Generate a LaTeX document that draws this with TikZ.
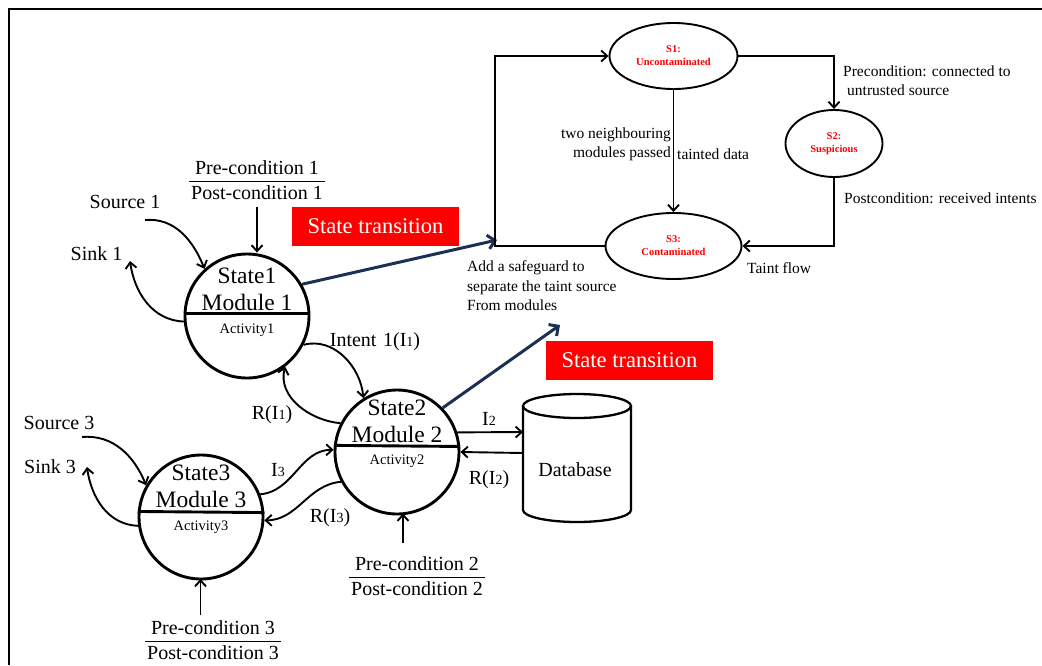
\documentclass[tikz,border=0pt]{standalone}
\usepackage{fontspec}
\setmainfont{Liberation Serif}
\usetikzlibrary{arrows.meta,shapes.geometric}
\definecolor{navyline}{RGB}{28,48,84}
\definecolor{boxred}{RGB}{255,0,0}
\newcommand\smd[1]{{\fontsize{14}{14}\selectfont #1}}
\newcommand\prepost[1]{\setlength\arrayrulewidth{1.6pt}\begin{tabular}{@{\hspace{2pt}}c@{\hspace{2pt}}}Pre-condition #1\\[-1pt]\hline Post-condition #1\end{tabular}}
\begin{document}
\begin{tikzpicture}[x=1pt,y=-1pt,
  modnode/.style={circle, draw, line width=2.9pt, inner sep=0pt, minimum size=124pt},
  big/.style={font=\fontsize{23.5}{27}\selectfont, align=center, inner sep=0pt},
  act/.style={font=\fontsize{14.5}{16}\selectfont, inner sep=0pt},
  lbl/.style={font=\fontsize{20}{24}\selectfont, inner sep=0pt},
  pcnode/.style={font=\fontsize{20}{24}\selectfont, inner sep=0pt},
  small/.style={font=\fontsize{15.5}{19.5}\selectfont, inner sep=0pt},
  stnode/.style={ellipse, draw, line width=1.9pt, inner sep=0pt, font=\fontsize{10.5}{13}\selectfont\bfseries, text=boxred, align=center},
  redbox/.style={fill=boxred, text=white, font=\fontsize{22.5}{26}\selectfont, minimum width=167pt, minimum height=39pt, inner sep=0pt},
  conn/.style={line width=1.9pt, -{Straight Barb[length=6pt,width=11pt]}},
  rconn/.style={line width=1.9pt, -{Straight Barb[length=6pt,width=11pt]}},
  blueconn/.style={draw=navyline, line width=3pt, -{Straight Barb[length=7pt,width=14pt]}}]
\useasboundingbox (0,0) rectangle (1042,665);
\fill[white] (0,0) rectangle (1042,665);
% frame
\draw[line width=2.6pt] (9,665) -- (9,9) -- (1042,9);

% ---------- modules ----------
\node[modnode] (m1) at (247,316) {};
\node[modnode] (m2) at (397,452) {};
\node[modnode] (m3) at (201,517) {};
\draw[line width=2.9pt] (m1.178) -- (m1.2);
\draw[line width=2.9pt] (m2.174.4) -- (m2.5.6);
\draw[line width=2.9pt] (m3.175.4) -- (m3.4.6);
\node[big] (m1t) at (247,289) {State1\\Module 1};
\node[act] (m1a) at (247,330) {Activity1};
\node[big] (m2t) at (397,421.5) {State2\\Module 2};
\node[act] (m2a) at (397,461) {Activity2};
\node[big] (m3t) at (201,486.5) {State3\\Module 3};
\node[act] (m3a) at (201,527) {Activity3};

% ---------- pre/post conditions ----------
\node[pcnode] (pc1) at (257,182) {\prepost{1}};
\node[pcnode] (pc2) at (417,578) {\prepost{2}};
\node[pcnode] (pc3) at (213,642) {\prepost{3}};
\draw[conn] (pc1.south) -- (pc1.south |- m1.north);
\coordinate (pc2a) at (403,543);
\draw[conn] (pc2a) -- (403,513.5);
\coordinate (pc3a) at (200.5,615);
\draw[conn] (pc3a) -- (200.5,579);

% ---------- sources and sinks ----------
\node[lbl] (src1) at (125,202) {Source 1};
\node[lbl] (snk1) at (96.5,254) {Sink 1};
\node[lbl] (src3) at (59,423) {Source 3};
\node[lbl] (snk3) at (50,467) {Sink 3};
\coordinate (src1a) at (145,220);
\coordinate (snk1a) at (130,261);
\coordinate (src3a) at (82,437);
\coordinate (snk3a) at (87,467);
\draw[conn] (src1a) to[out=5,in=112] (m1.132);
\draw[conn] (m1.185) to[out=178,in=-82] (snk1a);
\draw[conn] (src3a) to[out=5,in=112] (m3.150);
\draw[conn] (m3.188) to[out=178,in=-82] (snk3a);

% ---------- intents ----------
\node[lbl] (int1) at (375,342) {Intent\,\,1(I\smd{1})};
\node[lbl] (ri1) at (272,415) {R(I\smd{1})};
\node[lbl] (i3) at (278,470) {I\smd{3}};
\node[lbl] (ri3) at (330,518) {R(I\smd{3})};
\node[lbl] (i2) at (489,419) {I\smd{2}};
\node[lbl] (ri2) at (489,480) {R(I\smd{2})};
\draw[conn] (m1.-27) to[out=15,in=95] (m2.122);
\draw[conn] (m2.153) to[out=175,in=-105] (m1.-53);
\draw[conn] (m3.21) to[out=5,in=180] (m2.178);
\draw[conn] (m2.208) to[out=185,in=0] (m3.-3);

% ---------- database ----------
\draw[line width=2.3pt, fill=white] (523,406) -- (523,510) arc[start angle=180, end angle=0, x radius=54, y radius=12] -- (631,406);
\draw[line width=2.3pt] (577,406) ellipse [x radius=54, y radius=12];
\node[lbl] (db) at (575,470) {Database};
\coordinate (dbin) at (523,432);
\coordinate (dbout) at (523,453);
\draw[conn] (m2.18.8) -- (dbin);
\draw[conn] (dbout) -- (m2.-0.9);

% ---------- state transitions ----------
\node[redbox] (tr1) at (375.5,226.5) {State transition};
\node[redbox] (tr2) at (629.5,360) {State transition};
\coordinate (bt1) at (497,240);
\coordinate (bt2) at (560,325);
\draw[blueconn] (m1.30) -- (bt1);
\draw[blueconn] (m2.44) -- (bt2);

% ---------- state machine ----------
\node[stnode, minimum width=128pt, minimum height=66pt] (s1) at (673.5,56) {S1:\\Uncontaminated};
\node[stnode, minimum width=97pt, minimum height=67pt] (s2) at (834,143.5) {S2:\\Suspicious};
\node[stnode, minimum width=136pt, minimum height=66pt] (s3) at (673.5,246) {S3:\\Contaminated};
\draw[rconn] (s3.west) -- ++(-110,0) |- (s1.west);
\draw[rconn] (s1.east) -| (s2.north);
\draw[rconn] (s2.south) |- (s3.east);
\draw[rconn] (s1.south) -- (s3.north);

\node[small, anchor=west, align=left] (pre) at (843,80.5) {Precondition: connected to\\\hspace{4pt}untrusted source};
\node[small, anchor=east, align=right] (two) at (671,144.5) {two neighbouring\\modules passed\hspace{3pt}};
\node[small, anchor=west] (taint) at (677,154) {tainted data};
\node[small, anchor=west] (post) at (844,198) {Postcondition: received intents};
\node[small, anchor=west] (tflow) at (747,268) {Taint flow};
\node[small, anchor=west, align=left] (safe) at (467,286) {Add a safeguard to\\separate the taint source\\From modules};
\end{tikzpicture}
\end{document}
